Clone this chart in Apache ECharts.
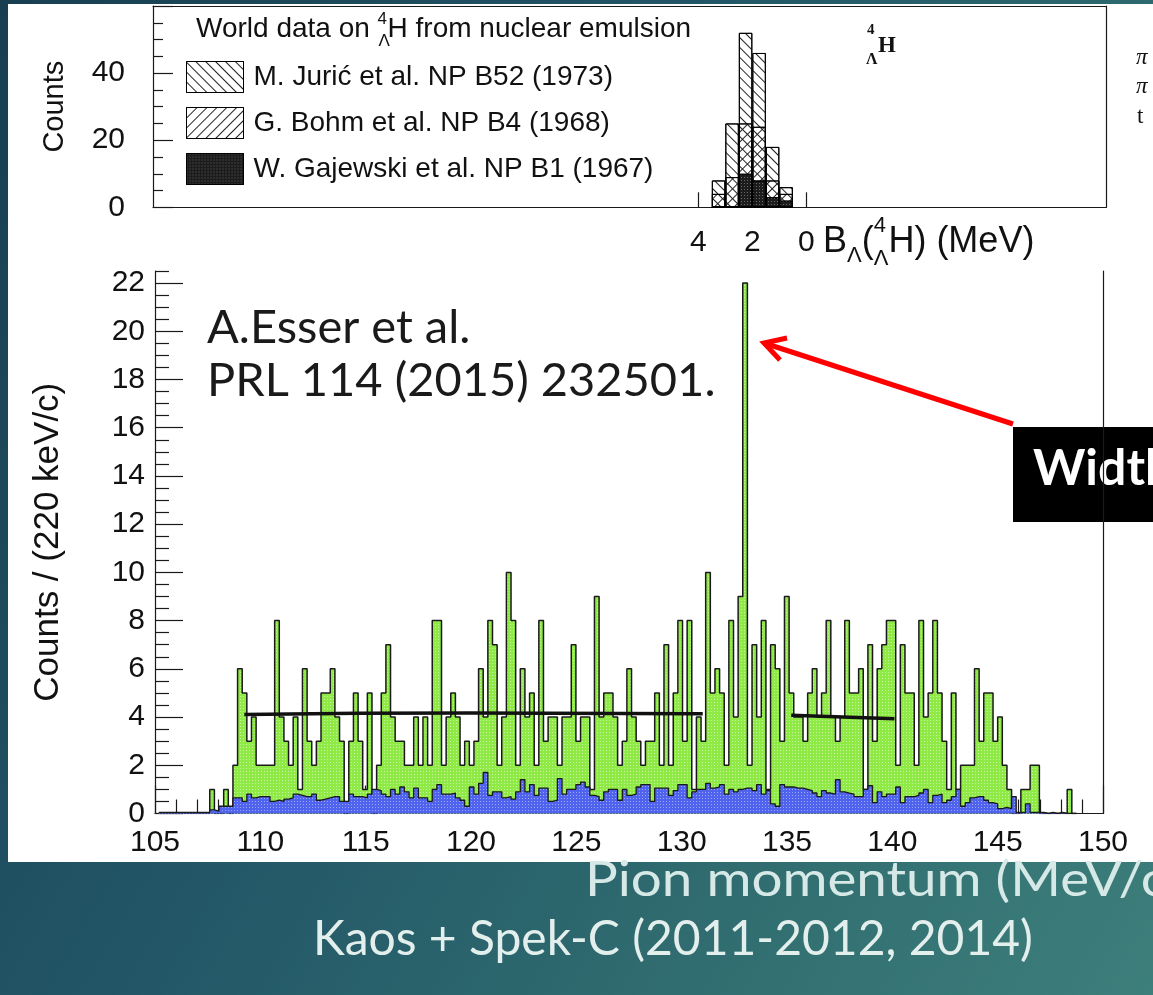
<!DOCTYPE html>
<html><head><meta charset="utf-8">
<script src="https://cdn.jsdelivr.net/npm/echarts@6/dist/echarts.min.js"></script>
<style>
html,body{margin:0;padding:0;width:1153px;height:995px;overflow:hidden;}
body{background:linear-gradient(120deg,#173f50 0%,#225667 40%,#2f6b6f 70%,#3d7f7b 100%);}
#paper{position:absolute;left:8px;top:4px;width:1145px;height:858px;background:#fff;}
#c{position:absolute;left:0;top:0;width:1153px;height:995px;}
</style>
</head><body><div id="paper"></div><div id="c"></div>
<script>
// ---------- data ----------
const binLow = 105.18;      // lower edge of first bin (MeV/c)
const binWidth = 0.22;      // 220 keV/c
const greenCounts = [0,0,0,0,0,0,0,0,0,0,0,1,0,0,1,0,
 2,6,5,3,4,2,2,2,2,8,4,3,2,4,1,6,3,2,3,5,5,6,4,3,0,3,5,3,1,5,0,2,5,7,4,3,3,2,2,4,2,4,
 2,8,8,2,4,5,4,2,3,2,3,6,4,8,7,2,4,10,8,2,6,4,5,2,8,3,4,4,2,4,4,7,3,4,4,1,9,4,5,5,4,2,3,6,4,3,
 2,3,3,5,2,7,2,5,8,3,8,1,4,3,10,5,6,5,2,8,4,9,22,2,7,4,8,1,7,6,3,9,5,4,4,3,5,6,4,5,8,4,3,4,8,5,5,6,
 1,7,3,6,7,8,8,2,7,5,5,2,8,4,5,8,5,3,1,5,1,2,2,2,6,3,5,5,3,4,2,1,0,0,1,1,2,2,0,0,0,0,0,0,1,0];
const blueCounts = [0.05,0.05,0.05,0.05,0.05,0.05,0.05,0.05,0.05,0.05,0.05,0.15,0.1,0.3,0.3,0.3,
 0.65,0.65,0.5,0.8,0.65,0.7,0.7,0.7,0.5,0.55,0.5,0.6,0.65,0.8,0.75,0.7,0.7,0.8,0.55,0.6,0.65,0.7,0.7,0.5,0.5,0.8,0.7,0.7,0.65,0.8,1.0,0.95,0.8,0.7,1.0,0.8,1.1,0.9,0.65,1.05,0.65,0.65,
 0.5,1.0,1.2,0.8,0.8,0.85,0.65,0.55,0.3,1.1,0.8,1.25,1.7,0.75,0.9,0.9,0.65,0.7,0.6,0.9,1.4,0.9,1.2,0.75,1.05,1.05,0.5,0.55,1.45,0.8,1.0,1.0,1.2,1.3,1.1,0.75,0.7,0.55,0.9,1.0,1.0,0.55,1.0,0.75,0.8,1.1,
 1.2,1.2,0.5,1.05,1.05,1.05,0.75,0.95,1.2,1.2,0.65,0.9,1.0,1.0,1.25,1.05,1.1,1.2,0.8,1.0,0.9,1.0,1.05,1.05,0.95,1.2,0.8,0.95,0.4,0.3,1.2,1.1,1.1,1.05,1.05,1.0,0.95,0.85,0.7,0.95,0.85,0.8,1.4,0.9,0.85,0.8,0.7,0.7,
 1.0,1.15,0.45,0.9,0.7,0.8,0.8,1.1,0.45,0.7,0.7,0.75,0.85,1.0,0.45,0.75,0.8,0.45,0.55,0.7,1.0,0.3,0.45,0.65,0.7,0.7,0.55,0.45,0.4,0.2,0.25,0.2,0.7,0.05,0.05,0.4,0.05,0.05,0.05,0,0.05,0,0.05,0,0,0];
const fitLeft = [[109.24,4.11],[120.0,4.17],[131.0,4.14]];
const fitRight = [[135.2,4.08],[140.1,3.93]];

const emulsionCenters = [3.25,2.75,2.25,1.75,1.25,0.75];   // B_Lambda bin centres (MeV)
const juricCounts = [8,25,52,46,18,6];
const bohmCounts = [4,9,25,24,8,4];
const gajewskiCounts = [0,0,10,8,3,2];
const emulsionNames = ['M. Jurić et al. NP B52 (1973)','G. Bohm et al. NP B4 (1968)','W. Gajewski et al. NP B1 (1967)'];

const topXTickValues = [0,2,4];
const mainYMajor = [0,2,4,6,8,10,12,14,16,18,20,22];
const mainYMinor = [];
for (let v = 0; v <= 22.5; v += 0.5) { if (v % 2 !== 0) mainYMinor.push(v); }

// ---------- helpers ----------
const SANS = '"Liberation Sans", Arial, Helvetica, sans-serif';
const GOTH = 'Lato, "Open Sans", sans-serif';
const SERIF = '"Liberation Serif", "DejaVu Serif", serif';
const cv = document.createElement('canvas').getContext('2d');
function tw(t, size, fam, weight){ cv.font = (weight||'normal') + ' ' + size + 'px ' + fam; return cv.measureText(t).width; }
function stepData(counts){
  const d = [];
  for (let i = 0; i < counts.length; i++) d.push([+(binLow + i*binWidth).toFixed(3), counts[i]]);
  d.push([+(binLow + counts.length*binWidth).toFixed(3), counts[counts.length-1]]);
  return d;
}
function zip(a,b){ return a.map((v,i)=>[v,b[i]]); }

const axisCol = '#1a1a1a';
const lineSt = {color: axisCol, width: 1.2};
const dotsWhite = a => ({symbol:'rect', symbolSize:1, dashArrayX:[1,2], dashArrayY:[1,2], color:'rgba(255,255,255,'+a+')', rotation:0});
const hatch = rot => ({symbol:'rect', symbolSize:1, dashArrayX:[1,0], dashArrayY:[1,6], color:'#222', rotation:rot});

// ---------- graphic texts ----------
const g = [];
function txt(x,y,t,size,fam,opts,extra){ g.push(Object.assign({type:'text', x:x, y:y, style:Object.assign({text:t, fontSize:size, fontFamily:fam, fill:'#111', textVerticalAlign:'middle', textAlign:'left'}, opts||{})}, extra||{})); }
// legend title
let x0 = 196;
txt(x0, 29, 'World data on ', 28, SANS);
x0 += tw('World data on ', 28, SANS);
txt(x0, 19, '4', 17, SANS); txt(x0+1, 41, 'Λ', 17, SANS);
txt(x0 + 10, 29, 'H from nuclear emulsion', 28, SANS);
// B_Lambda label
let bx = 823;
txt(bx, 242, 'B', 36, SANS); bx += tw('B',36,SANS);
txt(bx, 256, 'Λ', 22, SANS); bx += tw('Λ',22,SANS);
txt(bx, 242, '(', 36, SANS); bx += tw('(',36,SANS);
txt(bx, 226, '4', 22, SANS); txt(bx, 259, 'Λ', 22, SANS); bx += tw('Λ',22,SANS);
txt(bx, 242, 'H) (MeV)', 36, SANS);
// 4_Lambda H in panel
txt(867, 30, '4', 15, SERIF, {fontWeight:'bold'});
txt(866, 60, 'Λ', 16, SERIF, {fontWeight:'bold'});
txt(878, 46, 'H', 23, SERIF, {fontWeight:'bold'});
txt(1136, 58, 'π', 23, SERIF, {fontStyle:'italic'});
txt(1136, 87, 'π', 23, SERIF, {fontStyle:'italic'});
txt(1137, 117, 't', 23, SERIF);
// cover part of right frame of upper pad
g.push({type:'rect', shape:{x:1100, y:22, width:12, height:120}, style:{fill:'#fff'}});
// reference
txt(207, 328, 'A.Esser et al.', 47, GOTH, {fill:'#1a1a1a'});
txt(207, 381, 'PRL 114 (2015) 232501.', 47, GOTH, {fill:'#1a1a1a'});
// arrow
g.push({type:'polyline', shape:{points:[[1013,424],[764,343]]}, style:{stroke:'#ff0000', lineWidth:5, fill:null}});
g.push({type:'polyline', shape:{points:[[787,338],[764,343],[780,360]]}, style:{stroke:'#ff0000', lineWidth:5, fill:null, lineJoin:'miter'}});
// Width box
g.push({type:'rect', shape:{x:1013, y:427, width:145, height:95}, style:{fill:'#000'}});
txt(1033, 469, 'Width', 50, GOTH, {fill:'#fff', fontWeight:'bold'});
// slide texts
txt(585, 881, 'Pion momentum (MeV/c)', 48, GOTH, {fill:'#d6e9e7'}, {scaleX:1.14});
txt(313, 940, 'Kaos + Spek-C (2011-2012, 2014)', 48, GOTH, {fill:'#e3efed'});

// ---------- option ----------
const option = {
  animation: false,
  backgroundColor: 'transparent',
  grid: [
    {left:153, top:6, width:953, height:201.3},
    {left:155, top:271, width:948, height:542.5}
  ],
  legend: {
    data: emulsionNames, orient:'vertical', left:186, top:61, padding:0, itemWidth:57, itemHeight:31, itemGap:14,
    icon:'rect', selectedMode:false,
    itemStyle:{borderColor:'#000', borderWidth:1},
    textStyle:{fontSize:28, color:'#111', fontFamily:SANS, padding:[0,0,0,5]}
  },
  xAxis: [
    {type:'value', gridIndex:0, min:-11.1, max:24.2, inverse:true, position:'bottom',
     axisLine:{show:true, onZero:false, lineStyle:lineSt},
     axisTick:{show:true, inside:true, length:15, customValues:topXTickValues, lineStyle:lineSt},
     axisLabel:{customValues:topXTickValues, fontSize:30, margin:20, color:'#111', fontFamily:SANS},
     splitLine:{show:false}},
    {type:'value', gridIndex:0, min:-11.1, max:24.2, inverse:true, position:'top',
     axisLine:{show:true, onZero:false, lineStyle:lineSt}, axisTick:{show:false}, axisLabel:{show:false}, splitLine:{show:false}},
    {type:'value', gridIndex:1, min:105, max:150, interval:5, position:'bottom',
     axisLine:{show:true, onZero:false, lineStyle:lineSt},
     axisTick:{show:true, inside:true, length:28, lineStyle:lineSt},
     minorTick:{show:true, splitNumber:5, length:14, lineStyle:lineSt},
     axisLabel:{fontSize:30, margin:14, color:'#111', fontFamily:SANS},
     splitLine:{show:false}, minorSplitLine:{show:false}}
  ],
  yAxis: [
    {type:'value', gridIndex:0, min:0, max:60, interval:20, position:'left',
     axisLine:{show:true, onZero:false, lineStyle:lineSt},
     axisTick:{show:true, inside:true, length:20, lineStyle:lineSt},
     minorTick:{show:true, splitNumber:4, length:10, lineStyle:lineSt},
     axisLabel:{fontSize:30, margin:28, color:'#111', fontFamily:SANS, formatter: v => (v === 60 ? '' : String(v))},
     name:'Counts', nameLocation:'middle', nameGap:84, nameTextStyle:{fontSize:29, color:'#111', fontFamily:SANS},
     splitLine:{show:false}, minorSplitLine:{show:false}},
    {type:'value', gridIndex:0, min:0, max:60, position:'right',
     axisLine:{show:true, onZero:false, lineStyle:lineSt}, axisTick:{show:false}, axisLabel:{show:false}, splitLine:{show:false}},
    {type:'value', gridIndex:1, min:0, max:22.5, position:'left',
     axisLine:{show:true, onZero:false, lineStyle:lineSt},
     axisTick:{show:true, inside:true, length:28, customValues:mainYMajor, lineStyle:lineSt},
     axisLabel:{customValues:mainYMajor, fontSize:30, margin:10, color:'#111', fontFamily:SANS},
     name:'Counts / (220 keV/c)', nameLocation:'middle', nameGap:89, nameTextStyle:{fontSize:35, color:'#111', fontFamily:SANS},
     splitLine:{show:false}},
    {type:'value', gridIndex:1, min:0, max:22.5, position:'left',
     axisLine:{show:false}, axisTick:{show:true, inside:true, length:14, customValues:mainYMinor, lineStyle:lineSt},
     axisLabel:{show:false}, splitLine:{show:false}},
    {type:'value', gridIndex:1, min:0, max:22.5, position:'right',
     axisLine:{show:true, onZero:false, lineStyle:lineSt}, axisTick:{show:false}, axisLabel:{show:false}, splitLine:{show:false}}
  ],
  series: [
    {type:'bar', name:emulsionNames[0], xAxisIndex:0, yAxisIndex:0, data:zip(emulsionCenters, juricCounts),
     barWidth:13.5, barGap:'-100%', itemStyle:{color:'#ffffff', borderColor:'#000', borderWidth:1, decal:hatch(Math.PI/4)}},
    {type:'bar', name:emulsionNames[1], xAxisIndex:0, yAxisIndex:0, data:zip(emulsionCenters, bohmCounts),
     barWidth:13.5, barGap:'-100%', itemStyle:{color:'rgba(255,255,255,0)', borderColor:'#000', borderWidth:1, decal:hatch(-Math.PI/4)}},
    {type:'bar', name:emulsionNames[2], xAxisIndex:0, yAxisIndex:0, data:zip(emulsionCenters, gajewskiCounts),
     barWidth:13.5, barGap:'-100%', itemStyle:{color:'#1c1c1c', borderColor:'#000', borderWidth:1, decal:dotsWhite(0.35)}},
    {type:'line', name:'data', xAxisIndex:2, yAxisIndex:2, step:'end', data:stepData(greenCounts), symbol:'none',
     lineStyle:{color:'#1a1a1a', width:1.5}, itemStyle:{color:'#1a1a1a', decal:dotsWhite(0.5)},
     areaStyle:{color:'#90ea45', opacity:1}, z:2},
    {type:'line', name:'background', xAxisIndex:2, yAxisIndex:2, step:'end', data:stepData(blueCounts), symbol:'none',
     lineStyle:{color:'#1a1a1a', width:1.3}, itemStyle:{color:'#1a1a1a', decal:dotsWhite(0.45)},
     areaStyle:{color:'#4f63ee', opacity:1}, z:3},
    {type:'line', name:'fit1', xAxisIndex:2, yAxisIndex:2, data:fitLeft, symbol:'none', smooth:true,
     lineStyle:{color:'#111', width:3.5}, z:4},
    {type:'line', name:'fit2', xAxisIndex:2, yAxisIndex:2, data:fitRight, symbol:'none',
     lineStyle:{color:'#111', width:3.5}, z:4}
  ],
  graphic: {elements: g}
};
const chart = echarts.init(document.getElementById('c'));
chart.setOption(option);
</script>
</body></html>
